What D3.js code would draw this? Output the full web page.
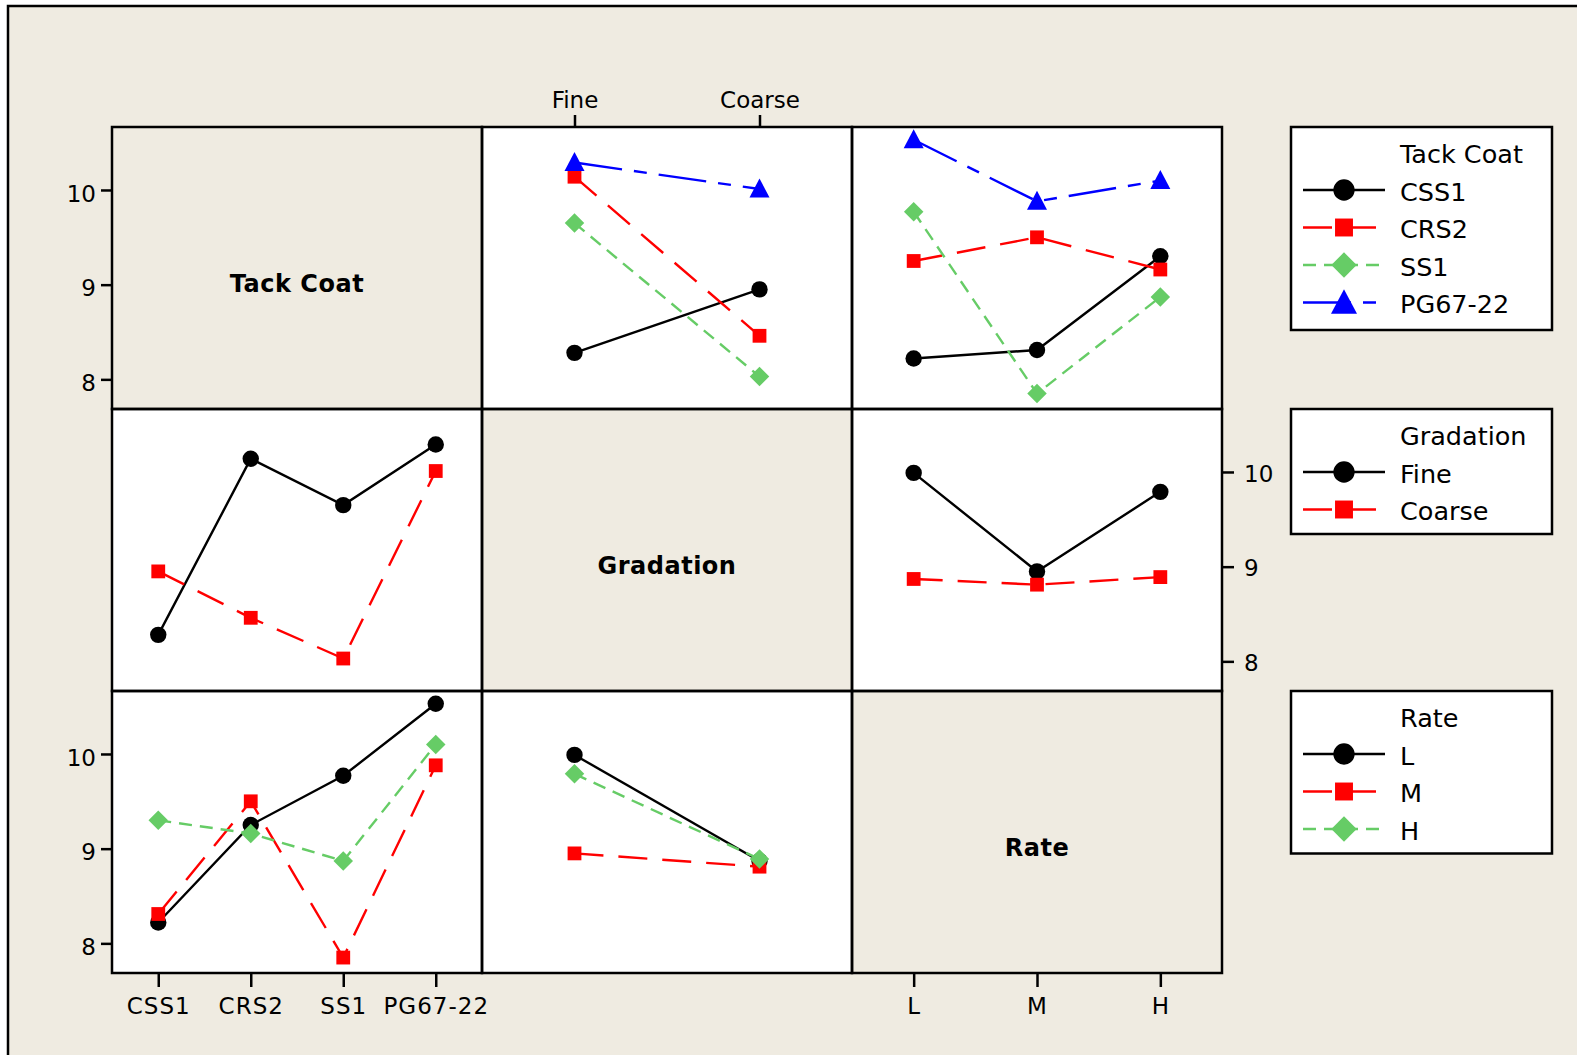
<!DOCTYPE html>
<html><head><meta charset="utf-8">
<script src="https://cdn.jsdelivr.net/npm/d3@7"></script>
<style>html,body{margin:0;padding:0;background:#fff;} svg{display:block;}</style>
</head><body>
<svg id="chart" width="1577" height="1055"></svg>
<script>
// ---------- data ----------
const tackCoat = ["CSS1", "CRS2", "SS1", "PG67-22"];
const gradation = ["Fine", "Coarse"];
const rate = ["L", "M", "H"];
const factorNames = ["Tack Coat", "Gradation", "Rate"];
const yTicks = [8, 9, 10];
// interaction means: rows = Tack Coat level, columns = Gradation level (Fine, Coarse)
const tackByGradation = [
  [8.28, 8.95],
  [10.14, 8.46],
  [9.65, 8.03],
  [10.29, 10.01]
];
// rows = Tack Coat level, columns = Rate level (L, M, H)
const tackByRate = [
  [8.22, 8.31, 9.30],
  [9.25, 9.50, 9.16],
  [9.77, 7.85, 8.87],
  [10.53, 9.88, 10.10]
];
// rows = Gradation level, columns = Rate level (L, M, H)
const gradationByRate = [
  [9.99, 8.95, 9.79],
  [8.87, 8.81, 8.89]
];

// ---------- layout / style ----------
const levels = [tackCoat, gradation, rate];
const transpose = m => m[0].map((_, j) => m.map(r => r[j]));
function table(sf, xf) {
  if (sf === 0 && xf === 1) return tackByGradation;
  if (sf === 0 && xf === 2) return tackByRate;
  if (sf === 1 && xf === 0) return transpose(tackByGradation);
  if (sf === 1 && xf === 2) return gradationByRate;
  if (sf === 2 && xf === 0) return transpose(tackByRate);
  if (sf === 2 && xf === 1) return transpose(gradationByRate);
}
const BG = "#efebe1";
const FONT = "'DejaVu Sans', Verdana, sans-serif";
const x0 = 112, y0 = 127, cw = 370, ch = 282;
const styles = [
  {color: "#000000", dash: null, sym: "circle"},
  {color: "#ff0000", dash: "29,15", sym: "square"},
  {color: "#66cc66", dash: "13,8", sym: "diamond"},
  {color: "#0000ff", dash: "48,12,13,12", sym: "triangle"}
];

const symTriangle = {draw(ctx, size) {
  const w = Math.sqrt(size) , h = w * 0.95;
  ctx.moveTo(0, -h / 2 - 1); ctx.lineTo(w / 2, h / 2 - 1); ctx.lineTo(-w / 2, h / 2 - 1); ctx.closePath();
}};
const symDiamond = {draw(ctx, size) {
  const d = Math.sqrt(size) / 2;
  ctx.moveTo(0, -d); ctx.lineTo(d, 0); ctx.lineTo(0, d); ctx.lineTo(-d, 0); ctx.closePath();
}};
const symSquare = {draw(ctx, size) {
  const d = Math.sqrt(size) / 2;
  ctx.rect(-d, -d, 2 * d, 2 * d);
}};
function markerPath(sym, scale) {
  if (sym === "circle") return d3.symbol(d3.symbolCircle, Math.PI * Math.pow(8.2 * scale, 2))();
  if (sym === "square") return d3.symbol(symSquare, Math.pow(13.8 * scale, 2))();
  if (sym === "diamond") return d3.symbol(symDiamond, Math.pow(19.5 * scale, 2))();
  return d3.symbol(symTriangle, Math.pow(20 * scale, 2))();
}

const svg = d3.select("#chart");
svg.append("rect").attr("x", 0).attr("y", 0).attr("width", 1577).attr("height", 1055).attr("fill", "#ffffff");
svg.append("rect").attr("x", 8).attr("y", 6).attr("width", 1620).attr("height", 1100)
  .attr("fill", BG).attr("stroke", "#000").attr("stroke-width", 2.5);

const y = d3.scaleLinear().domain([7.687, 10.665]).range([ch, 0]);
const xScales = levels.map(l => d3.scalePoint().domain(l).range([0, cw]).padding(0.5));

for (let r = 0; r < 3; r++) {
  for (let c = 0; c < 3; c++) {
    const g = svg.append("g").attr("transform", `translate(${x0 + c * cw},${y0 + r * ch})`);
    g.append("rect").attr("width", cw).attr("height", ch)
      .attr("fill", r === c ? BG : "#ffffff");
    if (r === c) {
      g.append("text").attr("x", cw / 2).attr("y", ch / 2 + 24)
        .attr("text-anchor", "middle").attr("font-family", FONT).attr("font-weight", "bold")
        .attr("font-size", 24).attr("letter-spacing", 0.5).text(factorNames[r]);
    } else {
      const m = table(r, c);
      const xs = xScales[c];
      const lvls = levels[c];
      m.forEach((vals, si) => {
        const st = styles[si];
        const line = d3.line().x((d, i) => xs(lvls[i])).y(d => y(d));
        g.append("path").attr("d", line(vals)).attr("fill", "none")
          .attr("stroke", st.color).attr("stroke-width", 2.4)
          .attr("stroke-dasharray", st.dash);
        g.selectAll(null).data(vals).enter().append("path")
          .attr("transform", (d, i) => `translate(${xs(lvls[i])},${y(d)})`)
          .attr("d", markerPath(st.sym, 1)).attr("fill", st.color);
      });
    }
  }
}
// cell borders on top
for (let r = 0; r < 3; r++) for (let c = 0; c < 3; c++) {
  svg.append("rect").attr("x", x0 + c * cw).attr("y", y0 + r * ch).attr("width", cw).attr("height", ch)
    .attr("fill", "none").attr("stroke", "#000").attr("stroke-width", 2.5);
}

function styleAxis(g, size) {
  g.select(".domain").remove();
  g.selectAll(".tick line").attr("stroke", "#000").attr("stroke-width", 2.5);
  g.selectAll(".tick text").attr("font-family", FONT).attr("font-size", size).attr("fill", "#000");
}
// left axes rows 0 and 2
[0, 2].forEach(r => {
  const g = svg.append("g").attr("transform", `translate(${x0},${y0 + r * ch})`)
    .call(d3.axisLeft(y).tickValues(yTicks).tickSize(11).tickPadding(5).tickFormat(d3.format("d")));
  styleAxis(g, 23);
  g.selectAll(".tick text").attr("dy", "0.48em");
});
// right axis row 1
{
  const g = svg.append("g").attr("transform", `translate(${x0 + 3 * cw},${y0 + ch})`)
    .call(d3.axisRight(y).tickValues(yTicks).tickSize(12).tickPadding(10).tickFormat(d3.format("d")));
  styleAxis(g, 23);
  g.selectAll(".tick text").attr("dy", "0.4em");
}
// top axis for Gradation column
{
  const g = svg.append("g").attr("transform", `translate(${x0 + cw},${y0})`)
    .call(d3.axisTop(xScales[1]).tickSize(12).tickPadding(7));
  styleAxis(g, 23);
}
// bottom axes for Tack Coat and Rate columns
[0, 2].forEach(c => {
  const g = svg.append("g").attr("transform", `translate(${x0 + c * cw},${y0 + 3 * ch})`)
    .call(d3.axisBottom(xScales[c]).tickSize(14).tickPadding(10.5));
  styleAxis(g, 23);
  g.selectAll(".tick text").attr("letter-spacing", 1);
});

// ---------- legends ----------
const legendX = 1291, legendW = 261;
[0, 1, 2].forEach(f => {
  const top = y0 + f * ch;
  const n = levels[f].length;
  const h = f === 0 ? 203 : 50 + 37.5 * n;
  const g = svg.append("g").attr("transform", `translate(${legendX},${top})`);
  g.append("rect").attr("width", legendW).attr("height", h).attr("fill", "#fff")
    .attr("stroke", "#000").attr("stroke-width", 2.5);
  g.append("text").attr("x", 109).attr("y", 36).attr("font-family", FONT).attr("font-size", 25.5)
    .text(factorNames[f]);
  levels[f].forEach((lv, i) => {
    const st = styles[i];
    const by = 73.5 + 37.5 * i;
    const ly = by - 10.5;
    g.append("line").attr("x1", 12).attr("x2", 94).attr("y1", ly).attr("y2", ly)
      .attr("stroke", st.color).attr("stroke-width", 2.4).attr("stroke-dasharray", st.dash);
    g.append("path").attr("transform", `translate(53,${ly})`).attr("d", markerPath(st.sym, 1.3))
      .attr("fill", st.color);
    g.append("text").attr("x", 109).attr("y", by).attr("font-family", FONT).attr("font-size", 25.5)
      .text(lv);
  });
});
</script>
</body></html>
